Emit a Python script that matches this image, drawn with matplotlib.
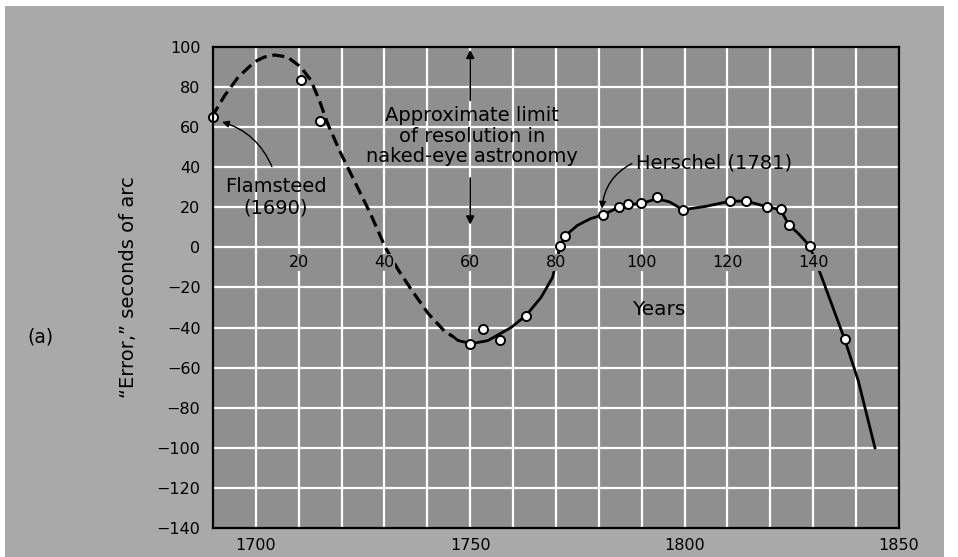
import matplotlib.pyplot as plt
from matplotlib.patches import Rectangle

# observed points (open circles)
obs_years = [1690, 1710.5, 1715, 1750, 1753, 1757, 1763, 1771, 1772, 1781, 1784.6, 1786.8,
             1789.8, 1793.5, 1799.6, 1810.5, 1814.3, 1819.3, 1822.4, 1824.3, 1829.2, 1837.3]
obs_error = [65, 83.5, 63, -48, -40.5, -46, -34, 0.5, 5.5, 16, 20, 21.7,
             22, 25, 18.5, 23, 23.2, 20, 19, 11.3, 0.5, -45.7]

# dashed (uncertain) part of the curve
dash_years = [1689.7, 1692.8, 1695.9, 1699.7, 1702, 1704.4, 1707.4, 1710.5, 1712.8, 1714.8,
              1716.7, 1719.8, 1722.9, 1726.7, 1730.2, 1733.3, 1736.4, 1740.2, 1744.1, 1746]
dash_error = [65, 76, 85, 92.6, 95, 96, 95, 90, 83.5, 73.5,
              62, 47, 33.5, 17, 0, -11.5, -21.5, -33, -42, -44.5]

# solid part of the curve
solid_years = [1746, 1747.2, 1750.3, 1754.1, 1759.5, 1763, 1766.5, 1769.2, 1770.3, 1771, 1772,
               1775, 1778, 1781, 1784.6, 1786.7, 1789.8, 1793.5, 1796.5, 1799.6, 1805, 1810.4,
               1814.3, 1819.3, 1822.4, 1824.3, 1826.6, 1829.2, 1832, 1837.3, 1840.5, 1844.4]
solid_error = [-44.5, -46.5, -48, -46.5, -40, -34, -25, -15, -5, 0.5, 5.5,
               11, 14.3, 16.3, 20, 21.5, 21.8, 24.3, 22.7, 18.8, 20.5, 23,
               23.2, 20.2, 18.8, 11.3, 6.8, 0.7, -15, -45.7, -66.5, -100]

year_ticks = [1700, 1750, 1800, 1850]
offset_labels = [20, 40, 60, 80, 100, 120, 140]  # years since 1690
y_ticks = list(range(-140, 101, 20))

bg_out = '#a9a9a9'
bg_in = '#8f8f8f'
fs = 14

fig = plt.figure(figsize=(9.58, 5.57), dpi=100)
fig.patch.set_facecolor('white')
fig.patches.append(Rectangle((0.005, 0), 0.98, 0.99, transform=fig.transFigure,
                             facecolor=bg_out, edgecolor='none', zorder=-10))

ax = fig.add_axes([0.2223, 0.0521, 0.7161, 0.8635])
ax.set_facecolor(bg_in)
ax.set_xlim(1690, 1850)
ax.set_ylim(-140, 100)

# white grid
for yr in range(1700, 1850, 10):
    ax.axvline(yr, color='white', linewidth=1.6, zorder=1)
for v in range(-120, 100, 20):
    ax.axhline(v, color='white', linewidth=1.6, zorder=1)

ax.plot(dash_years, dash_error, color='black', linewidth=2.3,
        linestyle=(0, (3.8, 1.8)), zorder=2, clip_on=False)
ax.plot(solid_years, solid_error, color='black', linewidth=2.0, zorder=2)
ax.plot(obs_years, obs_error, 'o', markersize=6.5, markerfacecolor='white',
        markeredgecolor='black', markeredgewidth=1.4, zorder=5, clip_on=False)

# years-since-1690 labels along the zero line
for n in offset_labels:
    ax.text(1690 + n, -7.5, str(n), ha='center', va='center', fontsize=11.5, zorder=3,
            bbox=dict(facecolor=bg_in, edgecolor='none', pad=0.5))

ax.set_xticks(year_ticks)
ax.set_yticks(y_ticks)
ax.tick_params(length=0, labelsize=11.5)
ax.tick_params(axis='y', pad=9)
ax.tick_params(axis='x', pad=7)
for s in ax.spines.values():
    s.set_linewidth(1.6)
    s.set_zorder(6)

ax.set_ylabel('\u201cError,\u201d seconds of arc', fontsize=fs)
ax.yaxis.set_label_coords(-0.110, 0.5)

ax.text(1794, -31, 'Years', ha='center', va='center', fontsize=fs + 0.5, zorder=3)

ax.text(1750.5, 55.5, 'Approximate limit\nof resolution in\nnaked-eye astronomy',
        ha='center', va='center', fontsize=fs, linespacing=1.1, zorder=3)
ax.annotate('', xy=(1750, 100), xytext=(1750, 72),
            arrowprops=dict(arrowstyle='-|>', color='black', lw=1.2, mutation_scale=12))
ax.annotate('', xy=(1750, 10), xytext=(1750, 36),
            arrowprops=dict(arrowstyle='-|>', color='black', lw=1.2, mutation_scale=12))

ax.text(1704.6, 25, 'Flamsteed\n(1690)', ha='center', va='center', fontsize=fs,
        linespacing=1.15, zorder=3)
ax.annotate('', xy=(1691.5, 63), xytext=(1704, 39),
            arrowprops=dict(arrowstyle='-|>', color='black', lw=1.0, mutation_scale=10,
                            connectionstyle='arc3,rad=0.25'))

ax.text(1788.6, 42, 'Herschel (1781)', ha='left', va='center', fontsize=fs, zorder=3)
ax.annotate('', xy=(1780.7, 18), xytext=(1788.3, 42.5),
            arrowprops=dict(arrowstyle='-|>', color='black', lw=1.0, mutation_scale=10,
                            connectionstyle='arc3,rad=0.3'))

fig.text(0.042, 0.395, '(a)', ha='center', va='center', fontsize=fs - 0.5)

fig.savefig('out.png', dpi=100, facecolor=fig.get_facecolor())
